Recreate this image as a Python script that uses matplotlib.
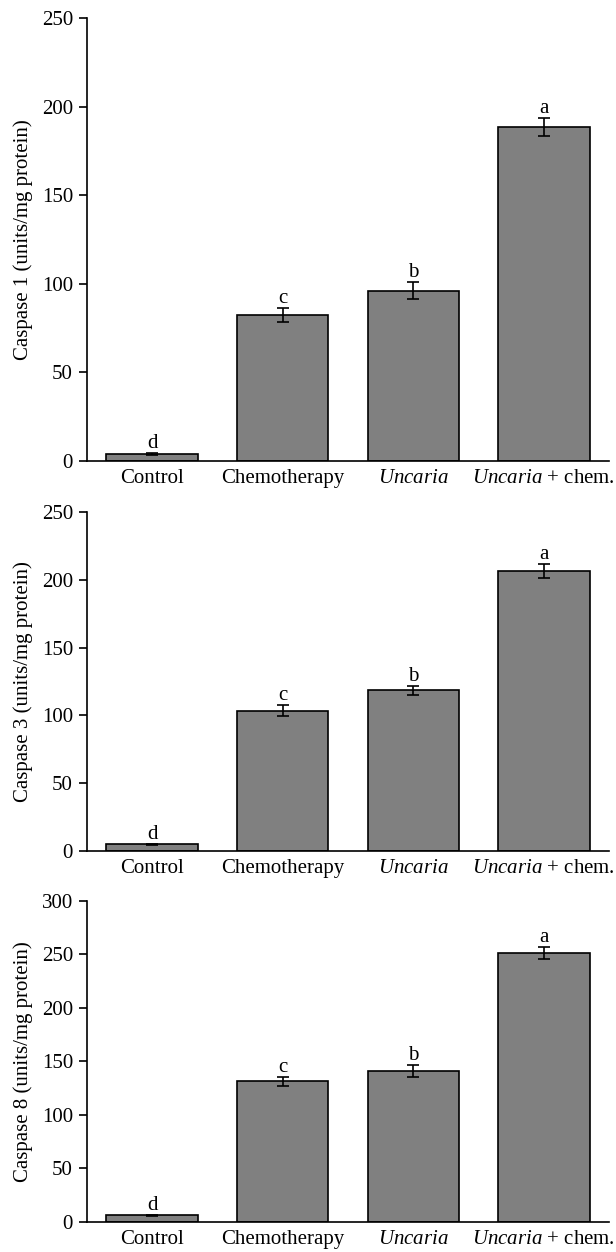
import numpy as np
import matplotlib.pyplot as plt

# groups on the x axis (the last two have "Uncaria" in italics)
groups = ["Control", "Chemotherapy", r"$\it{Uncaria}$", r"$\it{Uncaria}$ + chem."]
letters = ["d", "c", "b", "a"]

casp1_mean = [3.9, 82.4, 96.0, 188.3]
casp1_err = [0.6, 4.0, 4.8, 5.0]

casp3_mean = [4.9, 103.5, 118.5, 206.5]
casp3_err = [0.6, 4.0, 3.5, 5.5]

casp8_mean = [6.2, 131.5, 141.0, 251.0]
casp8_err = [0.6, 4.3, 5.6, 5.6]

panels = [
    ("Caspase 1 (units/mg protein)", casp1_mean, casp1_err, 250, [0.6318, 0.9856]),
    ("Caspase 3 (units/mg protein)", casp3_mean, casp3_err, 250, [0.3203, 0.5910]),
    ("Caspase 8 (units/mg protein)", casp8_mean, casp8_err, 300, [0.0240, 0.2804]),
]

plt.rcParams["font.family"] = ["Liberation Serif", "DejaVu Serif"]
plt.rcParams["mathtext.fontset"] = "custom"
plt.rcParams["mathtext.it"] = "Liberation Serif:italic"
plt.rcParams["mathtext.rm"] = "Liberation Serif"

FS = 15


def draw_panel(fig, ylabel, means, errs, ymax, ybox):
    bottom, top = ybox
    ax = fig.add_axes([0.141, bottom, 0.989 - 0.141, top - bottom])
    x = np.arange(len(groups))
    ax.bar(x, means, width=0.7, color="#808080", edgecolor="black", linewidth=1.2,
           yerr=errs, capsize=4, error_kw=dict(elinewidth=1.2, capthick=1.2, ecolor="black"),
           zorder=2)
    for xi, m, e, lab in zip(x, means, errs, letters):
        ax.annotate(lab, (xi, m + e), xytext=(0, 0), textcoords="offset points",
                    ha="center", va="bottom", fontsize=FS)

    ax.set_xlim(-0.5, 3.5)
    ax.set_ylim(0, ymax)
    ax.set_yticks(np.arange(0, ymax + 1, 50))
    ax.set_xticks(x)
    ax.set_xticklabels(groups, fontsize=FS)
    ax.tick_params(axis="x", length=0, pad=6)
    ax.tick_params(axis="y", direction="out", length=6, width=1.2, labelsize=FS, pad=4)
    ax.set_ylabel(ylabel, fontsize=FS, labelpad=6)

    ax.spines["top"].set_visible(False)
    ax.spines["right"].set_visible(False)
    ax.spines["left"].set_linewidth(1.2)
    ax.spines["bottom"].set_linewidth(1.2)
    return ax


fig = plt.figure(figsize=(6.16, 12.52), dpi=100)
for ylabel, means, errs, ymax, ybox in panels:
    draw_panel(fig, ylabel, means, errs, ymax, ybox)

fig.savefig("out.png", dpi=100, facecolor="white")
